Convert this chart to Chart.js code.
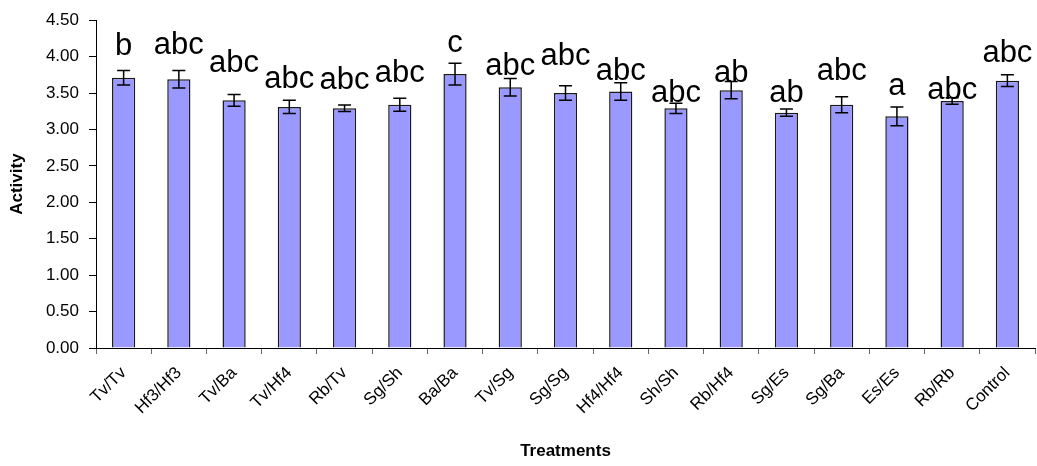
<!DOCTYPE html>
<html>
<head>
<meta charset="utf-8">
<script src="https://cdn.jsdelivr.net/npm/chart.js@4.4.1/dist/chart.umd.min.js"></script>
<style>
    html, body { margin: 0; padding: 0; background: #fff; }
    #wrap { width: 1037px; height: 466px; }
</style>
</head>
<body>
<div id="wrap"><canvas id="activityChart" width="1037" height="466"></canvas></div>
<script>
// ==================== DATA ====================
const treatments = ['Tv/Tv', 'Hf3/Hf3', 'Tv/Ba', 'Tv/Hf4', 'Rb/Tv', 'Sg/Sh', 'Ba/Ba', 'Tv/Sg', 'Sg/Sg',
    'Hf4/Hf4', 'Sh/Sh', 'Rb/Hf4', 'Sg/Es', 'Sg/Ba', 'Es/Es', 'Rb/Rb', 'Control'];
const activity = [3.71, 3.69, 3.40, 3.31, 3.29, 3.34, 3.76, 3.58, 3.50, 3.52, 3.29, 3.54, 3.23, 3.34, 3.18, 3.39, 3.67];
const errors = [0.10, 0.12, 0.08, 0.09, 0.045, 0.09, 0.15, 0.12, 0.10, 0.12, 0.07, 0.12, 0.05, 0.11, 0.13, 0.045, 0.08];
// significance letters and the value (axis units) their baseline sits at
const letters = ['b', 'abc', 'abc', 'abc', 'abc', 'abc', 'c', 'abc', 'abc', 'abc', 'abc', 'ab', 'ab', 'abc', 'a', 'abc', 'abc'];
const letterY = [4.02, 4.04, 3.79, 3.57, 3.56, 3.65, 4.06, 3.75, 3.89, 3.68, 3.38, 3.65, 3.38, 3.68, 3.48, 3.42, 3.93];
const yTicks = [0, 0.5, 1, 1.5, 2, 2.5, 3, 3.5, 4, 4.5];

const FONT = "'Liberation Sans', Arial, sans-serif";

// ==================== PLUGINS ====================
const errorBarPlugin = {
    id: 'errorBars',
    afterDatasetsDraw(chart) {
        const ctx = chart.ctx;
        const y = chart.scales.y;
        const meta = chart.getDatasetMeta(0);
        ctx.save();
        ctx.strokeStyle = '#000';
        ctx.lineWidth = 1.5;
        meta.data.forEach((bar, i) => {
            const top = y.getPixelForValue(activity[i] + errors[i]);
            const bottom = y.getPixelForValue(activity[i] - errors[i]);
            const cap = 6.5;
            ctx.beginPath();
            ctx.moveTo(bar.x, top);
            ctx.lineTo(bar.x, bottom);
            ctx.moveTo(bar.x - cap, top);
            ctx.lineTo(bar.x + cap, top);
            ctx.moveTo(bar.x - cap, bottom);
            ctx.lineTo(bar.x + cap, bottom);
            ctx.stroke();
        });
        ctx.restore();
    }
};

const letterPlugin = {
    id: 'sigLetters',
    afterDatasetsDraw(chart) {
        const ctx = chart.ctx;
        const y = chart.scales.y;
        const meta = chart.getDatasetMeta(0);
        ctx.save();
        ctx.fillStyle = '#000';
        ctx.font = '31px ' + FONT;
        ctx.textAlign = 'center';
        ctx.textBaseline = 'alphabetic';
        meta.data.forEach((bar, i) => {
            ctx.fillText(letters[i], bar.x, y.getPixelForValue(letterY[i]));
        });
        ctx.restore();
    }
};

// ==================== CHART ====================
new Chart(document.getElementById('activityChart').getContext('2d'), {
    type: 'bar',
    data: {
        labels: treatments,
        datasets: [{
            label: 'Activity',
            data: activity,
            backgroundColor: '#9999ff',
            borderColor: '#1a1a1a',
            borderWidth: 1.5,
            categoryPercentage: 1,
            barPercentage: 0.42
        }]
    },
    options: {
        responsive: false,
        animation: false,
        layout: { padding: { top: 16, right: 2, bottom: 3, left: 5 } },
        plugins: {
            legend: { display: false },
            tooltip: { enabled: false }
        },
        scales: {
            x: {
                afterFit: scale => { scale.height = 115; },
                grid: { display: true, drawOnChartArea: false, tickLength: 6, tickColor: '#666' },
                border: { display: true, color: '#000', width: 1 },
                ticks: {
                    color: '#000',
                    font: { family: FONT, size: 17 },
                    minRotation: 45,
                    maxRotation: 45,
                    autoSkip: false,
                    padding: 9
                },
                title: {
                    display: true,
                    text: 'Treatments',
                    color: '#000',
                    font: { family: FONT, size: 17, weight: 'bold' },
                    padding: { top: 0, bottom: 1 }
                }
            },
            y: {
                min: 0,
                max: 4.5,
                afterFit: scale => { scale.width = 91; },
                afterBuildTicks: scale => { scale.ticks = yTicks.map(v => ({ value: v })); },
                grid: { display: true, drawOnChartArea: false, tickLength: 7, tickColor: '#000' },
                border: { display: true, color: '#000', width: 1 },
                ticks: {
                    color: '#000',
                    font: { family: FONT, size: 17 },
                    padding: 10,
                    callback: val => Number(val).toFixed(2)
                },
                title: {
                    display: true,
                    text: 'Activity',
                    color: '#000',
                    font: { family: FONT, size: 17, weight: 'bold' },
                    padding: { top: 2, bottom: 0 }
                }
            }
        }
    },
    plugins: [errorBarPlugin, letterPlugin]
});
</script>
</body>
</html>
